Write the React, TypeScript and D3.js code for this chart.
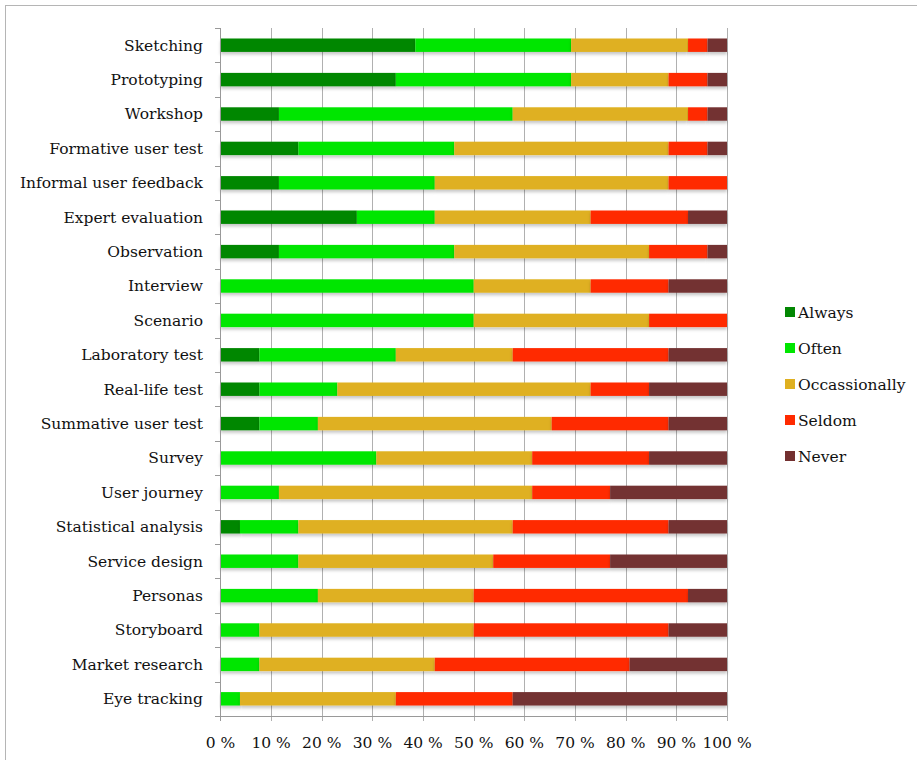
import React, { useEffect, useRef } from 'react';
import * as d3 from 'd3';

// Answers per method (out of 26 respondents)
const categories = [
    'Sketching', 'Prototyping', 'Workshop', 'Formative user test', 'Informal user feedback',
    'Expert evaluation ', 'Observation', 'Interview', 'Scenario', 'Laboratory test',
    'Real-life test', 'Summative user test', 'Survey', 'User journey', 'Statistical analysis',
    'Service design', 'Personas', 'Storyboard', 'Market research', 'Eye tracking'
];
const always = [10, 9, 3, 4, 3, 7, 3, 0, 0, 2, 2, 2, 0, 0, 1, 0, 0, 0, 0, 0];
const often = [8, 9, 12, 8, 8, 4, 9, 13, 13, 7, 4, 3, 8, 3, 3, 4, 5, 2, 2, 1];
const occasionally = [6, 5, 9, 11, 12, 8, 10, 6, 9, 6, 13, 12, 8, 13, 11, 10, 8, 11, 9, 8];
const seldom = [1, 2, 1, 2, 3, 5, 3, 4, 4, 8, 3, 6, 6, 4, 8, 6, 11, 10, 10, 6];
const never = [1, 1, 1, 1, 0, 2, 1, 3, 0, 3, 4, 3, 4, 6, 3, 6, 2, 3, 5, 11];

const seriesNames = ['Always', 'Often', 'Occassionally', 'Seldom', 'Never'];
const seriesColors = ['#028702', '#00e600', '#dfb020', '#ff2a00', '#733030'];
const xTicks = [0, 0.1, 0.2, 0.3, 0.4, 0.5, 0.6, 0.7, 0.8, 0.9, 1];

const App = () => {
    const svgRef = useRef<SVGSVGElement>(null);

    useEffect(() => {
        const width = 917;
        const height = 760;
        const font = '"DejaVu Serif", "Liberation Serif", serif';

        const svg = d3.select(svgRef.current)
            .attr('width', width)
            .attr('height', height)
            .style('background', '#fff');

        svg.selectAll('*').remove();

        // outer frame
        svg.append('rect')
            .attr('x', 5.5).attr('y', 5.5)
            .attr('width', 1000).attr('height', 1000)
            .attr('fill', 'none')
            .attr('stroke', '#b5b5b5');

        const rows = categories.map((c, i) => ({
            name: c,
            Always: always[i],
            Often: often[i],
            Occassionally: occasionally[i],
            Seldom: seldom[i],
            Never: never[i]
        }));

        const stacked = d3.stack<any>()
            .keys(seriesNames)
            .offset(d3.stackOffsetExpand)(rows);

        const x = d3.scaleLinear().domain([0, 1]).range([220.5, 727]);
        const y = d3.scaleBand().domain(categories).range([28, 716]).paddingInner(0.61).paddingOuter(0.305);

        // drop shadow like the original
        const defs = svg.append('defs');
        const f = defs.append('filter').attr('id', 'shadow')
            .attr('x', '-5%').attr('y', '-30%').attr('width', '110%').attr('height', '190%');
        f.append('feDropShadow')
            .attr('dx', 0).attr('dy', 2.5).attr('stdDeviation', 1.5)
            .attr('flood-color', '#000').attr('flood-opacity', 0.22);

        // vertical grid lines
        svg.append('g')
            .selectAll('line')
            .data(xTicks.slice(1))
            .enter()
            .append('line')
            .attr('x1', d => Math.round(x(d)) + 0.5)
            .attr('x2', d => Math.round(x(d)) + 0.5)
            .attr('y1', 28)
            .attr('y2', 721)
            .attr('stroke', '#b0b0b0')
            .attr('stroke-width', 1);

        // bars
        svg.append('g')
            .selectAll('g')
            .data(stacked)
            .enter()
            .append('g')
            .attr('fill', (d, i) => seriesColors[i])
            .selectAll('rect')
            .data(d => d)
            .enter()
            .append('rect')
            .attr('x', d => x(d[0]))
            .attr('width', d => x(d[1]) - x(d[0]))
            .attr('y', d => y(d.data.name) as number)
            .attr('height', y.bandwidth())
            .attr('filter', 'url(#shadow)');

        // y axis
        const yAxis = svg.append('g');
        yAxis.append('line')
            .attr('x1', 220.5).attr('x2', 220.5)
            .attr('y1', 28).attr('y2', 716)
            .attr('stroke', '#999');
        const bounds = d3.range(categories.length + 1).map(i => 28 + i * (716 - 28) / categories.length);
        yAxis.selectAll('.tick')
            .data(bounds)
            .enter()
            .append('line')
            .attr('x1', 215).attr('x2', 220.5)
            .attr('y1', d => Math.round(d) + 0.5)
            .attr('y2', d => Math.round(d) + 0.5)
            .attr('stroke', '#999');

        // x axis line
        svg.append('line')
            .attr('x1', 220.5).attr('x2', 727)
            .attr('y1', 716.5).attr('y2', 716.5)
            .attr('stroke', '#999');
        svg.append('line')
            .attr('x1', 220.5).attr('x2', 220.5)
            .attr('y1', 716).attr('y2', 721)
            .attr('stroke', '#999');

        // category labels
        svg.append('g')
            .selectAll('text')
            .data(categories)
            .enter()
            .append('text')
            .attr('x', 203)
            .attr('y', d => (y(d) as number) + y.bandwidth() / 2)
            .attr('dy', '0.35em')
            .attr('text-anchor', 'end')
            .style('font-family', font)
            .style('font-size', '15.5px')
            .attr('fill', '#111')
            .text(d => d);

        // x tick labels
        svg.append('g')
            .selectAll('text')
            .data(xTicks)
            .enter()
            .append('text')
            .attr('x', d => x(d))
            .attr('y', 748)
            .attr('text-anchor', 'middle')
            .style('font-family', font)
            .style('font-size', '15.5px')
            .attr('fill', '#111')
            .text(d => `${Math.round(d * 100)} %`);

        // legend
        const legend = svg.append('g')
            .selectAll('g')
            .data(seriesNames)
            .enter()
            .append('g')
            .attr('transform', (d, i) => `translate(785, ${313 + i * 36})`);

        legend.append('rect')
            .attr('x', 0).attr('y', -6)
            .attr('width', 10).attr('height', 10)
            .attr('fill', (d, i) => seriesColors[i]);

        legend.append('text')
            .attr('x', 13)
            .attr('y', 0)
            .attr('dy', '0.35em')
            .style('font-family', font)
            .style('font-size', '15.5px')
            .attr('fill', '#111')
            .text(d => d);
    }, []);

    return (
        <div style={{ position: 'absolute', left: 0, top: 0 }}>
            <svg ref={svgRef} style={{ display: 'block' }}></svg>
        </div>
    );
};

export default App;
